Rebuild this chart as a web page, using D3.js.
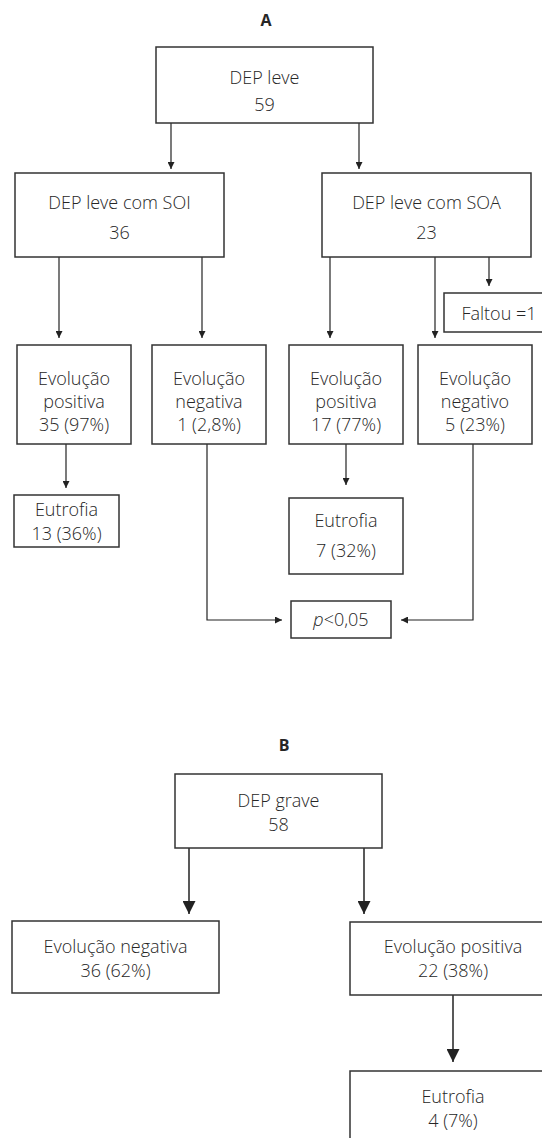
<!DOCTYPE html>
<html lang="pt">
<head>
<meta charset="UTF-8">
<title>Fluxograma DEP</title>
<script src="https://cdn.jsdelivr.net/npm/d3@7"></script>
<style>
  body { margin: 0; background: #fff; }
  svg text { font-family: "Open Sans", "Noto Sans", sans-serif; fill: #262626; }
</style>
</head>
<body>
<svg width="542" height="1138"></svg>
<script>
// Textos / valores do fluxograma
var titles = ["A", "B"];
var labelsA = [
  ["DEP leve", "59"],
  ["DEP leve com SOI", "36"],
  ["DEP leve com SOA", "23"],
  ["Faltou =1"],
  ["Evolução", "positiva", "35 (97%)"],
  ["Evolução", "negativa", "1 (2,8%)"],
  ["Evolução", "positiva", "17 (77%)"],
  ["Evolução", "negativo", "5 (23%)"],
  ["Eutrofia", "13 (36%)"],
  ["Eutrofia", "7 (32%)"],
  ["p<0,05"]
];
var labelsB = [
  ["DEP grave", "58"],
  ["Evolução negativa", "36 (62%)"],
  ["Evolução positiva", "22 (38%)"],
  ["Eutrofia", "4 (7%)"]
];

// layout (px): caixa [x0, x1, y0, y1] e centros das linhas de texto
var layoutA = [
  {box: [156, 373, 47, 123], ly: [77, 104]},
  {box: [15, 224, 173, 257], ly: [202, 232]},
  {box: [322, 531, 173, 257], ly: [202, 232]},
  {box: [444, 554, 293, 332], ly: [313]},
  {box: [17, 131, 345, 444], ly: [378, 401, 424]},
  {box: [152, 266, 345, 444], ly: [378, 401, 424]},
  {box: [289, 403, 345, 444], ly: [378, 401, 424]},
  {box: [418, 532, 345, 444], ly: [378, 401, 424]},
  {box: [14, 119, 495, 547], ly: [509, 533]},
  {box: [289, 403, 498, 574], ly: [520, 550]},
  {box: [291, 391, 601, 638], ly: [619]}
];
var layoutB = [
  {box: [175, 382, 774, 848], ly: [800, 824]},
  {box: [12, 219, 921, 993], ly: [946, 970]},
  {box: [350, 556, 922, 995], ly: [946, 970]},
  {box: [350, 556, 1071, 1160], ly: [1096, 1120]}
];

var arrowsA = [
  [[171, 123], [171, 169]],
  [[359, 123], [359, 169]],
  [[59, 257], [59, 338]],
  [[202, 257], [202, 338]],
  [[330, 257], [330, 338]],
  [[435, 257], [435, 338]],
  [[489, 257], [489, 286]],
  [[66, 444], [66, 488]],
  [[346, 444], [346, 485]],
  [[207, 444], [207, 620], [282, 620]],
  [[473, 444], [473, 620], [401, 620]]
];
var arrowsB = [
  [[189, 848], [189, 914]],
  [[364, 848], [364, 914]],
  [[453, 995], [453, 1062]]
];

var svg = d3.select("svg");

var defs = svg.append("defs");
function marker(id, size) {
  defs.append("marker")
    .attr("id", id)
    .attr("viewBox", "0 0 10 10")
    .attr("refX", 10).attr("refY", 5)
    .attr("markerUnits", "userSpaceOnUse")
    .attr("markerWidth", size).attr("markerHeight", size)
    .attr("orient", "auto")
    .append("path")
    .attr("d", "M0,0 L10,5 L0,10 Z")
    .attr("fill", "#222");
}
marker("headS", 7);
marker("headL", 13);

var line = d3.line();

// titulos
svg.selectAll(".title")
  .data([[titles[0], 266, 20], [titles[1], 284, 745]])
  .join("text")
  .attr("class", "title")
  .attr("x", function(d) { return d[1]; })
  .attr("y", function(d) { return d[2]; })
  .attr("text-anchor", "middle")
  .attr("dominant-baseline", "central")
  .attr("font-size", 16)
  .attr("font-weight", "bold")
  .text(function(d) { return d[0]; });

function drawBoxes(labels, layout, cls) {
  var nodes = labels.map(function(l, i) { return {lines: l, box: layout[i].box, ly: layout[i].ly}; });
  var g = svg.selectAll("g." + cls)
    .data(nodes)
    .join("g")
    .attr("class", cls);

  g.append("rect")
    .attr("x", function(d) { return d.box[0]; })
    .attr("y", function(d) { return d.box[2]; })
    .attr("width", function(d) { return d.box[1] - d.box[0]; })
    .attr("height", function(d) { return d.box[3] - d.box[2]; })
    .attr("fill", "none")
    .attr("stroke", "#333")
    .attr("stroke-width", 1.5);

  g.each(function(d) {
    var cx = (d.box[0] + d.box[1]) / 2;
    d3.select(this).selectAll("text")
      .data(d.lines)
      .join("text")
      .attr("x", cx)
      .attr("y", function(t, i) { return d.ly[i]; })
      .attr("text-anchor", "middle")
      .attr("dominant-baseline", "central")
      .attr("font-size", 18)
      .attr("font-weight", 300)
      .each(function(t) {
        var el = d3.select(this);
        if (t.charAt(0) === "p" && t.indexOf("<") === 1) {
          el.append("tspan").attr("font-style", "italic").text("p");
          el.append("tspan").text(t.slice(1));
        } else {
          el.text(t);
        }
      });
  });
}

function drawArrows(list, head, width) {
  svg.append("g")
    .selectAll("path")
    .data(list)
    .join("path")
    .attr("d", line)
    .attr("fill", "none")
    .attr("stroke", "#222")
    .attr("stroke-width", width)
    .attr("marker-end", "url(#" + head + ")");
}

drawArrows(arrowsA, "headS", 1.2);
drawArrows(arrowsB, "headL", 1.5);
drawBoxes(labelsA, layoutA, "nodeA");
drawBoxes(labelsB, layoutB, "nodeB");
</script>
</body>
</html>
